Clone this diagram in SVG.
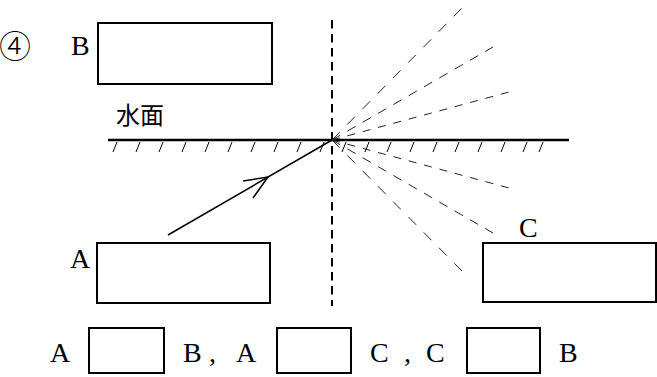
<svg xmlns="http://www.w3.org/2000/svg" width="657" height="377" viewBox="0 0 657 377">
<style>
.box{fill:none;stroke:#000;stroke-width:2}
.lbl{font-family:"Liberation Serif","Times New Roman",serif;font-size:28px;fill:#000}
.cjk{font-family:"Noto Sans CJK JP","Noto Sans CJK SC",sans-serif;fill:#000}
.hatch{stroke:#000;stroke-width:1}
.ray{fill:none;stroke:#222;stroke-width:1}
</style>
<rect width="657" height="377" fill="#fff"/>
<text class="cjk" x="-1" y="58" font-size="32" font-weight="300">④</text>
<g id="nodeB">
<rect class="box" x="98" y="23" width="174" height="61"/>
<text class="lbl" x="71" y="55">B</text>
</g>
<g id="nodeA">
<rect class="box" x="97" y="243" width="173" height="60"/>
<text class="lbl" x="70" y="268">A</text>
</g>
<g id="nodeC">
<rect class="box" x="483" y="243" width="173" height="59"/>
<text class="lbl" x="519" y="237">C</text>
</g>
<g id="water">
<text class="cjk" x="116" y="124" font-size="24">水面</text>
<line x1="108" y1="140" x2="569" y2="140" stroke="#000" stroke-width="2.5"/>
<g class="hatch">
<path d="M113 152l4 -10M136 152l4 -10M159 152l4 -10M182 152l4 -10M205 152l4 -10M228 152l4 -10M251 152l4 -10M274 152l4 -10M297 152l4 -10M320 152l4 -10"/>
<path d="M342 152l4 -10M365 152l4 -10M387 152l4 -10M410 152l4 -10M433 152l4 -10M455 152l4 -10M478 152l4 -10M501 152l4 -10M523 152l4 -10M539 152l4 -10"/>
</g>
</g>
<g id="connectors">
<line x1="332" y1="20" x2="332" y2="306" stroke="#000" stroke-width="2" stroke-dasharray="8.5 5.5"/>
<line x1="168" y1="235" x2="332" y2="140" stroke="#000" stroke-width="1.5"/>
<polyline points="243,181 268,177 253,198" fill="none" stroke="#000" stroke-width="1.5"/>
<line class="ray" x1="332" y1="140" x2="462" y2="8" stroke-dasharray="11 10.7"/>
<line class="ray" x1="332" y1="140" x2="493" y2="47" stroke-dasharray="9.5 8.2"/>
<line class="ray" x1="332" y1="140" x2="509" y2="92" stroke-dasharray="8 7.9"/>
<line class="ray" x1="332" y1="140" x2="509" y2="188" stroke-dasharray="8 7.9"/>
<line class="ray" x1="332" y1="140" x2="493" y2="233" stroke-dasharray="9.5 8.2"/>
<line class="ray" x1="332" y1="140" x2="463" y2="272" stroke-dasharray="11 10.7"/>
</g>
<g id="answers">
<text class="lbl" x="50" y="362">A</text>
<rect class="box" x="89" y="328" width="75" height="45"/>
<text class="lbl" x="183" y="362">B<tspan x="209">,</tspan></text>
<text class="lbl" x="236" y="362">A</text>
<rect class="box" x="277" y="328" width="74" height="45"/>
<text class="lbl" x="370" y="362">C<tspan x="404">,</tspan></text>
<text class="lbl" x="426" y="362">C</text>
<rect class="box" x="467" y="328" width="73" height="45"/>
<text class="lbl" x="559" y="362">B</text>
</g>
</svg>
